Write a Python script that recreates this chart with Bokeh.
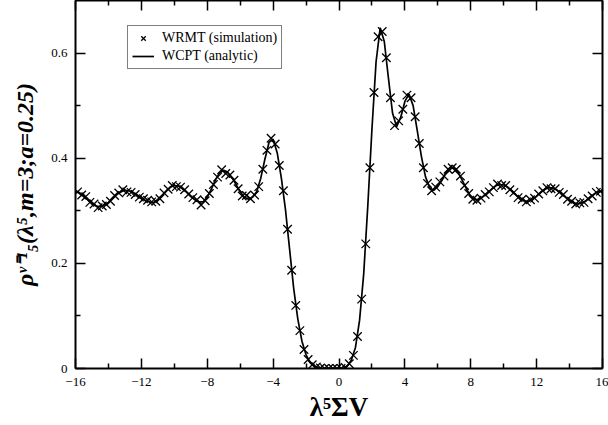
from bokeh.plotting import figure
from bokeh.models import Range1d, LinearAxis, Legend, LegendItem, FixedTicker, CustomJSTickFormatter
from bokeh.embed import file_html
from bokeh.resources import INLINE

# ---------------- data ----------------
# analytic curve (WCPT)
line_x = [-16.0, -15.75, -15.5, -15.25, -15.0, -14.75, -14.5, -14.25, -14.0, -13.75, -13.5, -13.25,
          -13.0, -12.75, -12.5, -12.25, -12.0, -11.75, -11.5, -11.25, -11.0, -10.75, -10.5, -10.25,
          -10.0, -9.75, -9.5, -9.25, -9.0, -8.75, -8.5, -8.25, -8.0, -7.75, -7.5, -7.25,
          -7.0, -6.75, -6.5, -6.25, -6.0, -5.75, -5.5, -5.25, -5.0, -4.75, -4.5, -4.25,
          -4.0, -3.75, -3.5, -3.25, -3.0, -2.75, -2.5, -2.25, -2.0, -1.75, -1.5, -1.25,
          -1.0, -0.75, -0.5, -0.25, 0.0, 0.25, 0.5, 0.75, 1.0, 1.25, 1.5, 1.75,
          2.0, 2.25, 2.5, 2.75, 3.0, 3.25, 3.5, 3.75, 4.0, 4.25, 4.5, 4.75,
          5.0, 5.25, 5.5, 5.75, 6.0, 6.25, 6.5, 6.75, 7.0, 7.25, 7.5, 7.75,
          8.0, 8.25, 8.5, 8.75, 9.0, 9.25, 9.5, 9.75, 10.0, 10.25, 10.5, 10.75,
          11.0, 11.25, 11.5, 11.75, 12.0, 12.25, 12.5, 12.75, 13.0, 13.25, 13.5, 13.75,
          14.0, 14.25, 14.5, 14.75, 15.0, 15.25, 15.5, 15.75, 16.0]
line_y = [0.336, 0.334, 0.329, 0.321, 0.314, 0.309, 0.308, 0.311, 0.316, 0.324, 0.331, 0.336,
          0.339, 0.338, 0.335, 0.330, 0.324, 0.319, 0.317, 0.316, 0.321, 0.328, 0.337, 0.345,
          0.348, 0.347, 0.342, 0.335, 0.327, 0.321, 0.317, 0.317, 0.326, 0.341, 0.359, 0.372,
          0.377, 0.373, 0.363, 0.350, 0.336, 0.326, 0.322, 0.326, 0.336, 0.362, 0.398, 0.430,
          0.436, 0.410, 0.362, 0.302, 0.227, 0.152, 0.094, 0.052, 0.026, 0.011, 0.004, 0.0015,
          0.0005, 0.0, 0.0, 0.0, 0.0, 0.0005, 0.004, 0.016, 0.040, 0.092, 0.180, 0.310,
          0.455, 0.583, 0.648, 0.622, 0.553, 0.486, 0.460, 0.478, 0.508, 0.522, 0.500, 0.453,
          0.404, 0.365, 0.344, 0.339, 0.346, 0.358, 0.373, 0.382, 0.381, 0.372, 0.357, 0.341,
          0.327, 0.321, 0.322, 0.327, 0.333, 0.341, 0.347, 0.350, 0.349, 0.345, 0.338, 0.330,
          0.323, 0.319, 0.318, 0.322, 0.328, 0.335, 0.341, 0.344, 0.343, 0.339, 0.333, 0.326,
          0.319, 0.315, 0.313, 0.315, 0.319, 0.326, 0.332, 0.336, 0.338]

# simulation points (WRMT)
sim_x = [-15.875, -15.625, -15.375, -15.125, -14.875, -14.625, -14.375, -14.125,
         -13.875, -13.625, -13.375, -13.125, -12.875, -12.625, -12.375, -12.125,
         -11.875, -11.625, -11.375, -11.125, -10.875, -10.625, -10.375, -10.125,
         -9.875, -9.625, -9.375, -9.125, -8.875, -8.625, -8.375, -8.125,
         -7.875, -7.625, -7.375, -7.125, -6.875, -6.625, -6.375, -6.125,
         -5.875, -5.625, -5.375, -5.125, -4.875, -4.625, -4.375, -4.125,
         -3.875, -3.625, -3.375, -3.125, -2.875, -2.625, -2.375, -2.125,
         -1.875, -1.625, -1.375, -1.125, -0.875, -0.625, -0.375, -0.125,
         0.125, 0.375, 0.625, 0.875, 1.125, 1.375, 1.625, 1.875,
         2.125, 2.375, 2.625, 2.875, 3.125, 3.375, 3.625, 3.875,
         4.125, 4.375, 4.625, 4.875, 5.125, 5.375, 5.625, 5.875,
         6.125, 6.375, 6.625, 6.875, 7.125, 7.375, 7.625, 7.875,
         8.125, 8.375, 8.625, 8.875, 9.125, 9.375, 9.625, 9.875,
         10.125, 10.375, 10.625, 10.875, 11.125, 11.375, 11.625, 11.875,
         12.125, 12.375, 12.625, 12.875, 13.125, 13.375, 13.625, 13.875,
         14.125, 14.375, 14.625, 14.875, 15.125, 15.375, 15.625, 15.875]
sim_y = [0.336, 0.330, 0.327, 0.316, 0.313, 0.306, 0.309, 0.312,
         0.318, 0.329, 0.334, 0.340, 0.336, 0.335, 0.331, 0.326,
         0.323, 0.320, 0.317, 0.318, 0.323, 0.334, 0.341, 0.348,
         0.346, 0.345, 0.340, 0.332, 0.325, 0.321, 0.311, 0.319,
         0.333, 0.350, 0.364, 0.378, 0.371, 0.368, 0.358, 0.342,
         0.328, 0.329, 0.323, 0.330, 0.346, 0.379, 0.415, 0.438,
         0.427, 0.386, 0.338, 0.265, 0.187, 0.120, 0.072, 0.036,
         0.017, 0.007, 0.003, 0.001, 0.0, 0.0, 0.0, 0.0,
         0.0, 0.002, 0.009, 0.025, 0.061, 0.132, 0.237, 0.382,
         0.525, 0.631, 0.641, 0.591, 0.515, 0.462, 0.471, 0.493,
         0.520, 0.515, 0.479, 0.428, 0.382, 0.352, 0.338, 0.345,
         0.355, 0.366, 0.379, 0.382, 0.379, 0.366, 0.348, 0.333,
         0.322, 0.320, 0.324, 0.331, 0.336, 0.344, 0.351, 0.348,
         0.348, 0.340, 0.335, 0.325, 0.322, 0.317, 0.321, 0.324,
         0.332, 0.338, 0.344, 0.342, 0.342, 0.335, 0.331, 0.322,
         0.318, 0.313, 0.315, 0.316, 0.323, 0.328, 0.335, 0.337]

x_major = [-16, -12, -8, -4, 0, 4, 8, 12, 16]
x_minor = [-14, -10, -6, -2, 2, 6, 10, 14]
y_major = [0, 0.2, 0.4, 0.6]
y_minor = [0.1, 0.3, 0.5]
y_tick_labels = {0: "0", 0.2: "0.2", 0.4: "0.4", 0.6: "0.6"}
series_names = ["WRMT (simulation)", "WCPT (analytic)"]
x_title = "λ⁵ΣV"
y_title = "ρᵛ⁼¹₅(λ⁵,m=3;a=0.25)"

# ---------------- figure ----------------
FONT = "Liberation Serif"

p = figure(width=608, height=425, output_backend="svg", toolbar_location=None,
           x_range=Range1d(-16, 16), y_range=Range1d(0, 0.7),
           min_border_left=75, min_border_right=6, min_border_top=0, min_border_bottom=57,
           x_axis_type=None, y_axis_type=None)
p.grid.visible = False
p.outline_line_color = "black"
p.outline_line_width = 1
p.background_fill_color = "white"
p.border_fill_color = "white"

blank = CustomJSTickFormatter(code="return ''")


def style_axis(ax, show_labels):
    ax.axis_line_color = "black"
    ax.axis_line_width = 2
    ax.major_tick_in = 10
    ax.major_tick_out = 0
    ax.minor_tick_in = 5
    ax.minor_tick_out = 0
    ax.major_tick_line_color = "black"
    ax.minor_tick_line_color = "black"
    ax.major_tick_line_width = 1.5
    ax.minor_tick_line_width = 1.5
    ax.major_label_text_font = FONT
    ax.major_label_text_color = "black"
    ax.major_label_text_font_size = "13px"
    if show_labels:
        ax.major_label_standoff = 9
    else:
        ax.formatter = blank
        ax.major_label_standoff = 0


xb = LinearAxis(ticker=FixedTicker(ticks=x_major, minor_ticks=x_minor))
style_axis(xb, True)
xb.axis_label = x_title
xb.axis_label_text_font = FONT
xb.axis_label_text_font_size = "27px"
xb.axis_label_text_font_style = "bold"
xb.axis_label_text_color = "black"
xb.axis_label_standoff = 3
p.add_layout(xb, "below")

xt = LinearAxis(ticker=FixedTicker(ticks=x_major, minor_ticks=x_minor))
style_axis(xt, False)
p.add_layout(xt, "above")

yl = LinearAxis(ticker=FixedTicker(ticks=y_major, minor_ticks=y_minor),
                major_label_overrides=y_tick_labels)
style_axis(yl, True)
yl.major_label_standoff = 8
yl.axis_label = y_title
yl.axis_label_text_font = FONT
yl.axis_label_text_font_size = "24px"
yl.axis_label_text_font_style = "bold italic"
yl.axis_label_text_color = "black"
yl.axis_label_standoff = 10
p.add_layout(yl, "left")

yr = LinearAxis(ticker=FixedTicker(ticks=y_major, minor_ticks=y_minor))
style_axis(yr, False)
p.add_layout(yr, "right")

ln = p.line(line_x, line_y, line_color="black", line_width=1.7)
sc = p.scatter(sim_x, sim_y, marker="x", size=12, line_color="black", line_width=1.3)

legend = Legend(items=[LegendItem(label=series_names[0], renderers=[sc]),
                       LegendItem(label=series_names[1], renderers=[ln])],
                location=(52, 299))
legend.label_text_font = FONT
legend.label_text_font_size = "14px"
legend.label_text_color = "black"
legend.glyph_width = 22
legend.glyph_height = 16
legend.label_height = 16
legend.label_standoff = 8
legend.spacing = 2
legend.padding = 4
legend.margin = 0
legend.border_line_color = "black"
legend.border_line_width = 1
legend.background_fill_color = "white"
legend.background_fill_alpha = 1
p.add_layout(legend)

open("out.html", "w").write(file_html(p, INLINE))
